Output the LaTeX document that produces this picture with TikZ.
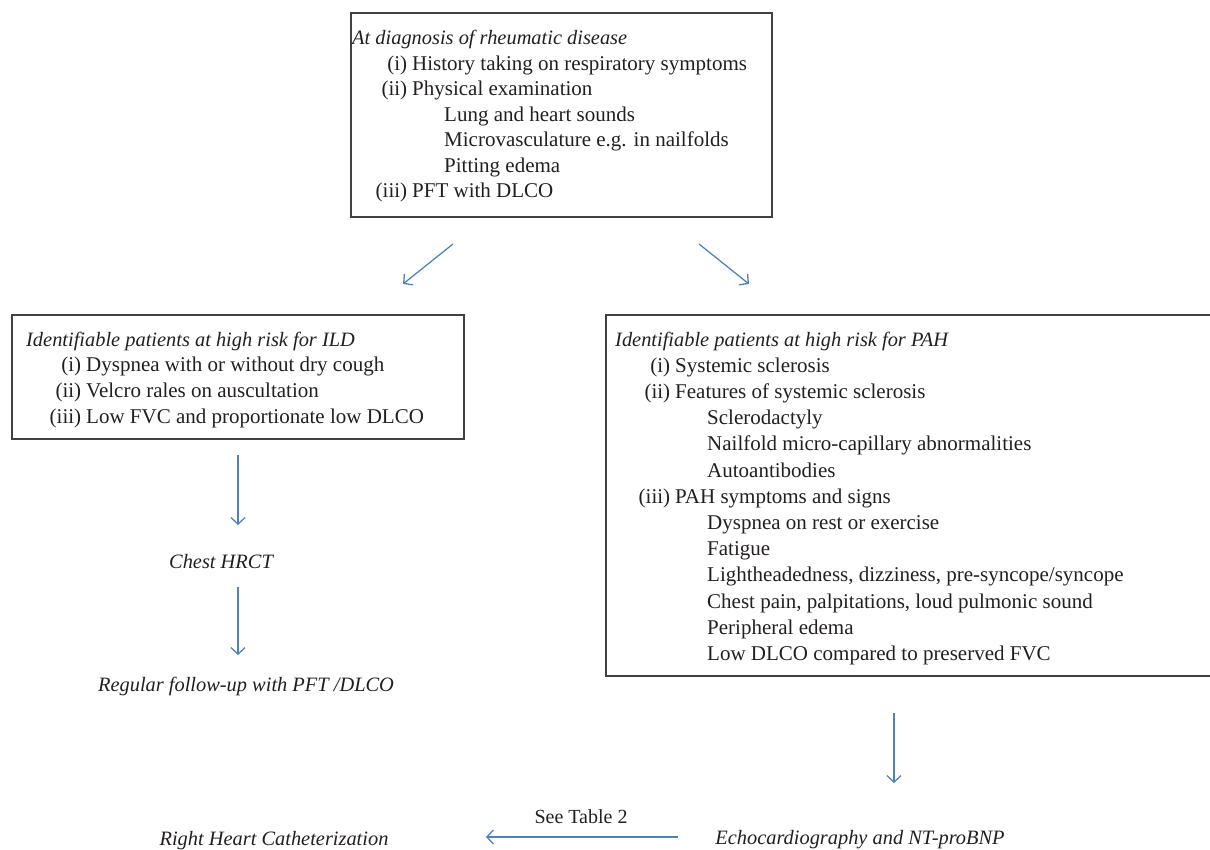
\documentclass[tikz,border=0pt]{standalone}
\usepackage{fontspec}
\setmainfont{Liberation Serif}
\usetikzlibrary{arrows.meta,fit}
\definecolor{arrowblue}{RGB}{79,129,189}
\definecolor{boxgray}{RGB}{65,65,65}
\definecolor{txt}{RGB}{35,31,32}
\newcommand\upsz[1]{\fontsize{21}{#1}\selectfont}
\newcommand\ttl[1]{{\fontsize{20.4}{26}\selectfont\itshape #1}}
\newcommand\lbl[2]{\makebox[60pt][r]{#1\hspace{5pt}}#2}
\newcommand\subl[1]{\hspace*{92pt}#1}
\tikzset{
  box/.style={draw=boxgray, line width=1.4pt, inner sep=0pt},
  arr/.style={draw=arrowblue, line width=1.3pt, -{Straight Barb[length=6.5pt,width=14pt]}},
  body/.style={anchor=base west, inner sep=0pt, text=txt},
  lab/.style={anchor=base, inner sep=0pt, text=txt},
}
\begin{document}
\begin{tikzpicture}[x=1pt,y=-1pt]
\useasboundingbox (0,0) rectangle (1210,850);
% boxes
\node[box, fit={(351,13) (772,217)}] (topbox) {};
\node[box, fit={(12,315) (464,439)}] (ildbox) {};
\node[box, fit={(606,315) (1222,676)}] (pahbox) {};
% box texts
\node[body] (toptext) at (352,45) {\parbox[t]{430pt}{\upsz{25.5}%
\ttl{At diagnosis of rheumatic disease}\\
\lbl{(i)}{History taking on respiratory symptoms}\\
\lbl{(ii)}{Physical examination}\\
\subl{Lung and heart sounds}\\
\subl{Microvasculature e.g. in nailfolds}\\
\subl{Pitting edema}\\
\lbl{(iii)}{PFT with DLCO}}};
\node[body] (ildtext) at (26,346) {\parbox[t]{430pt}{\upsz{25.8}%
\ttl{Identifiable patients at high risk for ILD}\\
\lbl{(i)}{Dyspnea with or without dry cough}\\
\lbl{(ii)}{Velcro rales on auscultation}\\
\lbl{(iii)}{Low FVC and proportionate low DLCO}}};
\node[body] (pahtext) at (615,346) {\parbox[t]{590pt}{\upsz{26.2}%
\ttl{Identifiable patients at high risk for PAH}\\
\lbl{(i)}{Systemic sclerosis}\\
\lbl{(ii)}{Features of systemic sclerosis}\\
\subl{Sclerodactyly}\\
\subl{Nailfold micro-capillary abnormalities}\\
\subl{Autoantibodies}\\
\lbl{(iii)}{PAH symptoms and signs}\\
\subl{Dyspnea on rest or exercise}\\
\subl{Fatigue}\\
\subl{Lightheadedness, dizziness, pre-syncope/syncope}\\
\subl{Chest pain, palpitations, loud pulmonic sound}\\
\subl{Peripheral edema}\\
\subl{Low DLCO compared to preserved FVC}}};
% free labels
\node[lab] (hrct) at (221,568) {\ttl{Chest HRCT}};
\node[lab] (follow) at (246,691) {\ttl{Regular follow-up with PFT /DLCO}};
\node[lab] (rhc) at (274,845) {\ttl{Right Heart Catheterization}};
\node[lab] (echo) at (860,844) {\ttl{Echocardiography and NT-proBNP}};
\node[lab] (see) at (581,823) {\fontsize{20}{24}\selectfont See Table 2};
% arrow end points
\coordinate (a1s) at (453,244); \coordinate (a1e) at (403,284);
\coordinate (a2s) at (699,244); \coordinate (a2e) at (749,284);
\coordinate (a3s) at (238,455); \coordinate (a3e) at (238,525);
\coordinate (a4s) at (238,587); \coordinate (a4e) at (238,655);
\coordinate (a5s) at (894,713); \coordinate (a5e) at (894,783);
\coordinate (a6s) at (678,837); \coordinate (a6e) at (486,837);
\draw[arr] (a1s) -- (a1e);
\draw[arr] (a2s) -- (a2e);
\draw[arr] (a3s) -- (a3e);
\draw[arr] (a4s) -- (a4e);
\draw[arr] (a5s) -- (a5e);
\draw[arr] (a6s) -- (a6e);
\end{tikzpicture}
\end{document}
